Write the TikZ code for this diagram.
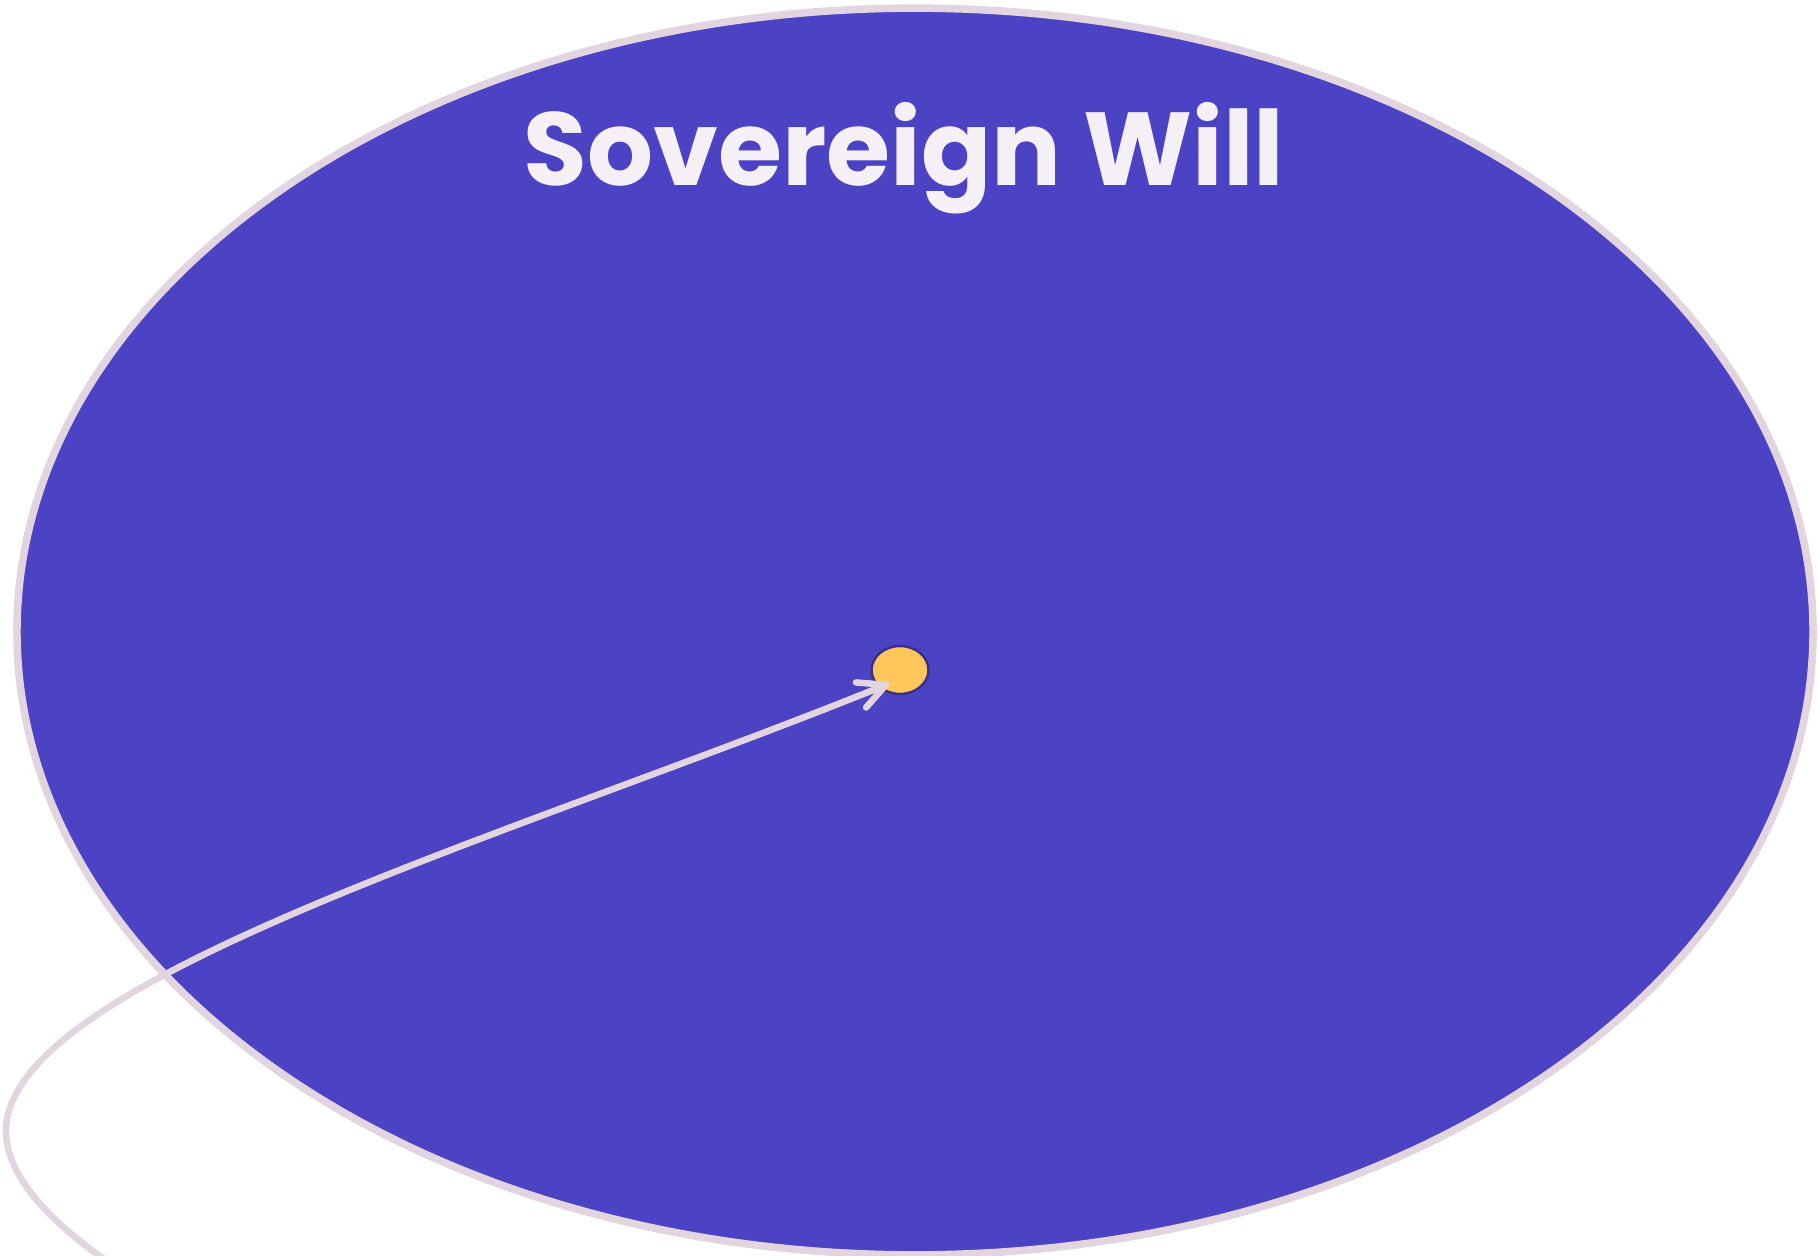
\documentclass[tikz,border=0pt]{standalone}
\usepackage{fontspec}
\setmainfont{Poppins}
\usepackage{tikz}
\usetikzlibrary{arrows.meta,positioning,shapes.geometric}
\definecolor{willblue}{HTML}{4B43C4}
\definecolor{rimgray}{HTML}{E2D5E0}
\definecolor{sunyellow}{HTML}{FFC65A}
\definecolor{inkdark}{HTML}{3A2E8C}
\definecolor{paletext}{HTML}{F5F0F5}

\begin{document}
\begin{tikzpicture}[
  x=0.01cm, y=-0.01cm,
  realm/.style={ellipse, draw=rimgray, fill=willblue, line width=0.075cm,
                inner sep=0pt, minimum width=17.95cm, minimum height=12.46cm},
  core/.style={ellipse, draw=inkdark, fill=sunyellow, line width=0.7pt,
               inner sep=0pt, minimum width=0.57cm, minimum height=0.48cm},
  heading/.style={font=\fontsize{29.5}{36}\selectfont\bfseries, text=paletext, inner sep=0pt},
  flow/.style={draw=rimgray, line width=0.065cm, line cap=round,
               -{Straight Barb[length=0.27cm, width=0.27cm, round]}}
]
\path[use as bounding box, fill=white] (0,0) rectangle (1819,1255);

% Outer realm
\node[realm] (will) at (915,631.5) {};
\node[heading, anchor=base] (title) at (904,186) {Sovereign Will};

% Centre point
\node[core] (sun) at (900,670) {};

% Incoming flow (source lies below the frame)
\coordinate (src) at (270,1350);
\draw[flow, shorten >=-0.11cm] (src) .. controls (135,1290) and (6,1208) .. (6,1131)
  .. controls (6,981) and (507,838) .. (sun.220);
\end{tikzpicture}
\end{document}
